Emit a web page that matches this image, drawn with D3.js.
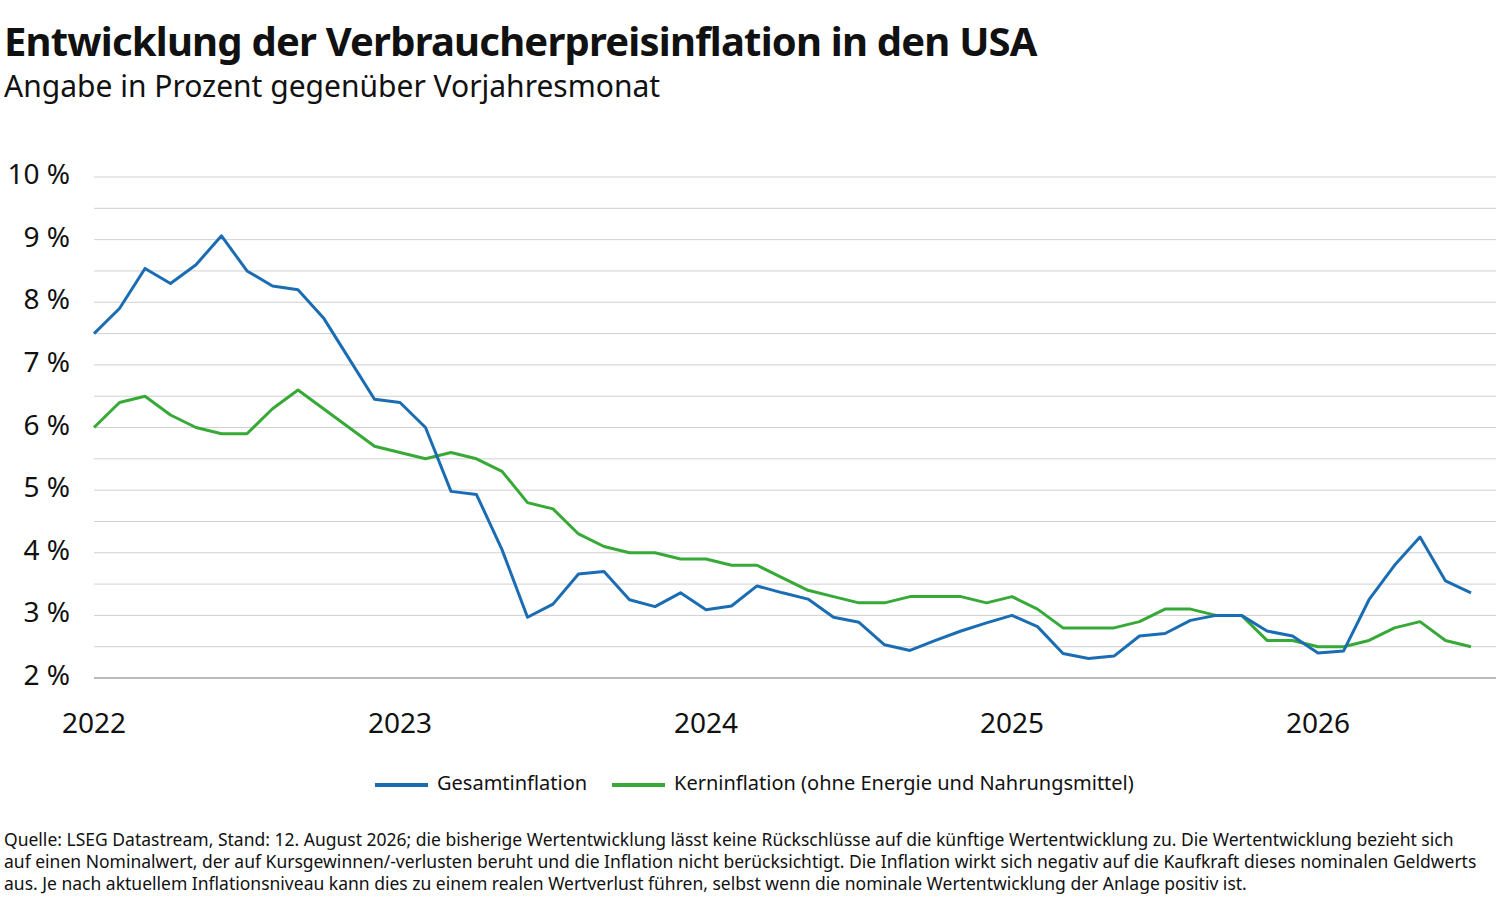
<!DOCTYPE html>
<html><head><meta charset="utf-8">
<script src="https://cdn.jsdelivr.net/npm/d3@7"></script>
<style>body{margin:0;background:#fff}text{font-family:"Noto Sans",sans-serif}</style>
</head><body><svg id="c" width="1500" height="898"></svg>
<script>
const headline = [7.5,7.9,8.54,8.3,8.6,9.06,8.5,8.26,8.2,7.75,7.1,6.45,6.4,6.0,4.98,4.93,4.05,2.97,3.18,3.66,3.7,3.25,3.14,3.36,3.09,3.15,3.47,3.36,3.26,2.97,2.89,2.53,2.44,2.6,2.75,2.88,3.0,2.82,2.39,2.31,2.35,2.67,2.71,2.92,3.0,3.0,2.75,2.67,2.4,2.43,3.25,3.8,4.25,3.55,3.36];
const core = [6.0,6.4,6.5,6.2,6.0,5.9,5.9,6.3,6.6,6.3,6.0,5.7,5.6,5.5,5.6,5.5,5.3,4.8,4.7,4.3,4.1,4.0,4.0,3.9,3.9,3.8,3.8,3.6,3.4,3.3,3.2,3.2,3.3,3.3,3.3,3.2,3.3,3.1,2.8,2.8,2.8,2.9,3.1,3.1,3.0,3.0,2.6,2.6,2.5,2.5,2.6,2.8,2.9,2.6,2.5];
const years = [2022,2023,2024,2025,2026];
const yTicks = [2,3,4,5,6,7,8,9,10];
const svg = d3.select("#c");
// x in months since Jan 2022
const x = d3.scaleLinear().domain([0, 12]).range([94, 400]);
const y = d3.scaleLinear().domain([2,10]).range([678,177]);
svg.append("text").attr("x",4).attr("y",56).attr("font-size",40).attr("font-weight",700).attr("fill","#111").attr("letter-spacing",-0.8).text("Entwicklung der Verbraucherpreisinflation in den USA");
svg.append("text").attr("x",4).attr("y",97).attr("font-size",30).attr("fill","#111").text("Angabe in Prozent gegenüber Vorjahresmonat");
const grid = d3.range(2.5,10.01,0.5);
svg.selectAll(".g").data(grid).join("line").attr("x1",94).attr("x2",1496).attr("y1",d=>y(d)).attr("y2",d=>y(d)).attr("stroke","#d0d0d0").attr("stroke-width",1);
svg.append("line").attr("x1",94).attr("x2",1496).attr("y1",y(2)).attr("y2",y(2)).attr("stroke","#bbb").attr("stroke-width",2);
svg.selectAll(".yl").data(yTicks).join("text").attr("x",70).attr("y",d=>y(d)+7).attr("text-anchor","end").attr("font-size",28).attr("fill","#111").text(d=>d+" %");
svg.selectAll(".xl").data(years).join("text").attr("x",d=>x((d-2022)*12)).attr("y",733).attr("text-anchor","middle").attr("font-size",28).attr("fill","#111").text(d=>d);
const line = d3.line().x((d,i)=>x(i)).y(d=>y(d));
svg.append("path").datum(core).attr("d",line).attr("fill","none").attr("stroke","#36a936").attr("stroke-width",3).attr("stroke-linejoin","round");
svg.append("path").datum(headline).attr("d",line).attr("fill","none").attr("stroke","#1b6db3").attr("stroke-width",3).attr("stroke-linejoin","round");
const leg=[["Gesamtinflation","#1b6db3",375],["Kerninflation (ohne Energie und Nahrungsmittel)","#36a936",612]];
leg.forEach(([t,c,lx])=>{svg.append("line").attr("x1",lx).attr("x2",lx+53).attr("y1",785).attr("y2",785).attr("stroke",c).attr("stroke-width",4);
svg.append("text").attr("x",lx+62).attr("y",790).attr("font-size",20).attr("fill","#111").text(t);});
const foot=["Quelle: LSEG Datastream, Stand: 12. August 2026; die bisherige Wertentwicklung lässt keine Rückschlüsse auf die künftige Wertentwicklung zu. Die Wertentwicklung bezieht sich","auf einen Nominalwert, der auf Kursgewinnen/-verlusten beruht und die Inflation nicht berücksichtigt. Die Inflation wirkt sich negativ auf die Kaufkraft dieses nominalen Geldwerts","aus. Je nach aktuellem Inflationsniveau kann dies zu einem realen Wertverlust führen, selbst wenn die nominale Wertentwicklung der Anlage positiv ist."];
foot.forEach((t,i)=>svg.append("text").attr("x",4).attr("y",846+i*22).attr("font-size",17.5).attr("fill","#111").text(t));
</script></body></html>
